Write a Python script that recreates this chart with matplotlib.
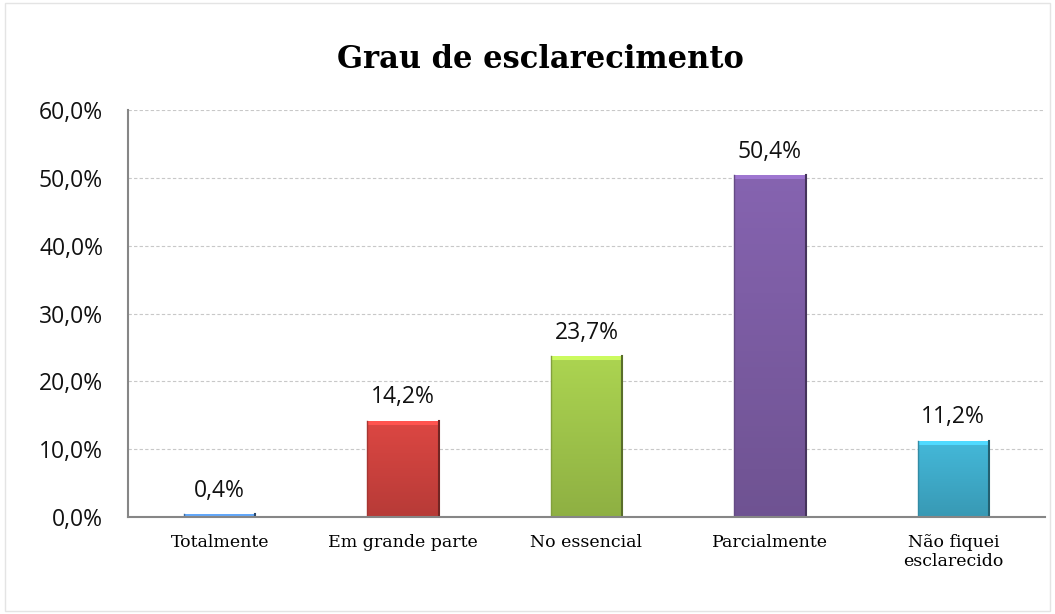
import matplotlib.pyplot as plt
import matplotlib.colors as mcolors
import numpy as np

categories = ['Totalmente', 'Em grande parte', 'No essencial', 'Parcialmente', 'Não fiquei\nesclarecido']
values = [0.4, 14.2, 23.7, 50.4, 11.2]
bar_colors = ['#4f86c8', '#d0433f', '#a2c84c', '#7e5ea6', '#40aecd']
yticks = [0, 10, 20, 30, 40, 50, 60]

fig = plt.figure(figsize=(10.55, 6.14), dpi=100)
ax = fig.add_axes([128 / 1055, 1 - 517 / 614, 917 / 1055, 407 / 614])

x = np.arange(len(categories))
width = 0.39
bars = ax.bar(x, values, width=width, color=bar_colors, edgecolor='none', zorder=2)

# soft gradient + bevel edges like the original
for b, c in zip(bars, bar_colors):
    rgb = np.array(mcolors.to_rgb(c))
    light = np.clip(rgb * 1.06, 0, 1)
    dark = rgb * 0.88
    t = np.linspace(0, 1, 64)[:, None]
    grad = light[None, :] * (1 - t) + dark[None, :] * t
    img = np.tile(grad[:, None, :], (1, 8, 1))
    x0, h = b.get_x(), b.get_height()
    im = ax.imshow(img, extent=[x0, x0 + width, h, 0], aspect='auto', zorder=2.1,
                   origin='lower')
    im.set_clip_path(b)
    ax.plot([x0 + width, x0 + width], [0, h], color=rgb * 0.55, lw=1.5, zorder=2.3)
    ax.plot([x0, x0], [0, h], color=rgb * 0.8, lw=1.0, zorder=2.3)
    ax.bar(x0 + width / 2, min(h, 0.6), bottom=h - min(h, 0.6), width=width,
           color=np.clip(rgb * 1.25, 0, 1), edgecolor='none', zorder=2.2)

for xi, v in zip(x, values):
    ax.text(xi, v + 1.7, f'{v:.1f}%'.replace('.', ','), ha='center', va='bottom',
            fontsize=16.5, family='Open Sans', color='#111111', zorder=3)

ax.set_xlim(-0.5, len(categories) - 0.5)
ax.set_ylim(0, 60)
ax.set_yticks(yticks)
ax.set_yticklabels([f'{t:.1f}%'.replace('.', ',') for t in yticks], fontsize=16.5,
                   family='Open Sans', color='#111111')
ax.set_xticks(x)
ax.set_xticklabels(categories, fontsize=12.5, family='DejaVu Serif')
ax.tick_params(length=0)
ax.tick_params(axis='x', pad=12)
ax.tick_params(axis='y', pad=18)
ax.yaxis.grid(True, color='#c8c8c8', linestyle=(0, (3, 2)), lw=0.8, zorder=0)
for s in ['top', 'right']:
    ax.spines[s].set_visible(False)
for s in ['left', 'bottom']:
    ax.spines[s].set_color('#868686')
    ax.spines[s].set_linewidth(1.5)

fig.text(540 / 1055, 1 - 60 / 614, 'Grau de esclarecimento', ha='center', va='center',
         fontsize=22, fontweight='bold', family='DejaVu Serif')

fig.patches.append(plt.Rectangle((0.005, 0.005), 0.99, 0.99, transform=fig.transFigure,
                                 fill=False, edgecolor='#e4e4e4', lw=1))

fig.savefig('out.png', dpi=100)
